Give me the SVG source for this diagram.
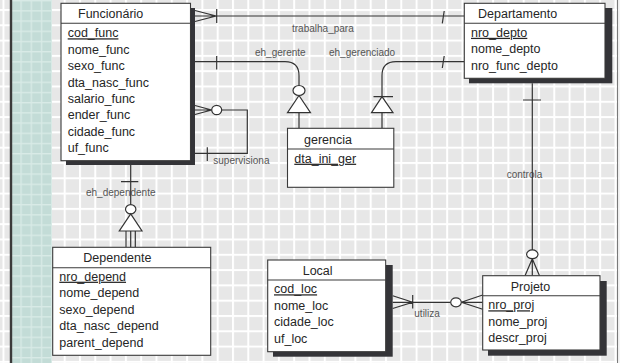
<svg xmlns="http://www.w3.org/2000/svg" width="620" height="363" viewBox="0 0 620 363">
<defs>
<pattern id="grid" patternUnits="userSpaceOnUse" x="2.5" y="9" width="15.3" height="15.3">
<rect width="15.3" height="15.3" fill="#e7e7e7"/>
<rect x="0" y="0" width="2" height="15.3" fill="#ffffff"/>
<rect x="0" y="0" width="15.3" height="2" fill="#ffffff"/>
</pattern>
<pattern id="teal" patternUnits="userSpaceOnUse" x="0" y="0" width="10.2" height="10.2">
<rect width="10.2" height="10.2" fill="#c3dcd7"/>
<rect x="0" y="0" width="1.4" height="10.2" fill="#d8eae6"/>
<rect x="0" y="0" width="10.2" height="1.4" fill="#d8eae6"/>
</pattern>
</defs>
<style>
.box{fill:#ffffff;stroke:#3a3a3a;stroke-width:1.1}
.shadow{fill:#343438}
.div{stroke:#3a3a3a;stroke-width:1.1}
.t{font-family:"Liberation Sans",Arial,sans-serif;font-size:12.5px;fill:#262626}
.u{text-decoration:underline}
.lbl{font-family:"Liberation Sans",Arial,sans-serif;font-size:10px;fill:#555555}
.c{fill:none;stroke:#333333;stroke-width:1.2}
.cw{fill:#ffffff;stroke:#333333;stroke-width:1.2}
</style>
<rect width="620" height="363" fill="url(#grid)"/>
<rect x="12" y="0" width="40" height="363" fill="url(#teal)"/>
<rect x="9.8" y="0" width="2.4" height="363" fill="#3a3a3a"/>
<rect x="617" y="0" width="1.2" height="363" fill="#7a7a7a"/>
<rect x="618.2" y="0" width="1.8" height="363" fill="#f4f4f4"/>

<g id="connectors">
<!-- labels -->
<text class="lbl" x="292" y="31.7">trabalha_para</text>
<text class="lbl" x="255" y="56">eh_gerente</text>
<text class="lbl" x="329" y="56">eh_gerenciado</text>
<text class="lbl" x="213.3" y="164">supervisiona</text>
<text class="lbl" x="86" y="196">eh_dependente</text>
<text class="lbl" x="506.7" y="178.3">controla</text>
<text class="lbl" x="414.3" y="316.7">utiliza</text>
<!-- trabalha_para -->
<path class="c" d="M195,16 H464 M195,10.5 L216,16 L195,21.5 M216.7,9 V23 M442.3,23.3 L444.2,11"/>
<!-- eh_gerente -->
<path class="c" d="M195,61.7 H285 Q299,61.7 299,75.7 V85.5 M216.7,56 V69.5 M299,112.7 V128.3"/>
<ellipse class="cw" cx="299" cy="90.5" rx="6" ry="5"/>
<path class="cw" d="M299,95.5 L287.5,112.7 L310.5,112.7 Z"/>
<!-- eh_gerenciado -->
<path class="c" d="M464,61.7 H396 Q382,61.7 382,75.7 V96.7 M442.3,68 L444.2,56 M373.5,96.7 H393 M382,112.7 V128.3"/>
<path class="cw" d="M382,96.7 L371.5,112.7 L393,112.7 Z"/>
<!-- supervisiona -->
<path class="c" d="M195,105.5 L211.5,110 L195,114.5 M195,110 H211.7 M221.7,110 H247.3 V153.3 H195 M207.3,147.3 V161"/>
<ellipse class="cw" cx="216.7" cy="110" rx="5" ry="4.7"/>
<!-- eh_dependente -->
<path class="c" d="M130.7,165 V204.7 M121,181.7 H138.3 M126,231 V247.3 M130.7,231 V247.3 M135.3,231 V247.3"/>
<ellipse class="cw" cx="130.7" cy="209.3" rx="5.2" ry="4.6"/>
<path class="cw" d="M130.7,213.9 L119.3,231 L142,231 Z"/>
<!-- controla -->
<path class="c" d="M532.3,83.3 V249.9 M523,100 H541 M525,275.7 L532.3,258.7 L539.5,275.7 M532.3,258.7 V275.7"/>
<ellipse class="cw" cx="532.3" cy="254.3" rx="5.7" ry="4.4"/>
<!-- utiliza -->
<path class="c" d="M392.7,295.7 L412.7,302.3 L392.7,308.5 M392.7,302.3 H450.7 M412.7,295 V308.5 M482.7,295 L461.3,302.3 L482.7,309.3 M461.3,302.3 H482.7"/>
<ellipse class="cw" cx="456" cy="302.3" rx="5.3" ry="4.5"/>
</g>

<g id="funcionario">
<rect class="shadow" x="66" y="8" width="129" height="157"/>
<rect class="box" x="61" y="3.3" width="129.5" height="157.4"/>
<line class="div" x1="61" y1="23.3" x2="190.5" y2="23.3"/>
<text class="t" x="78" y="18.3">Funcionário</text>
<text class="t u" x="67.7" y="37.3">cod_func</text>
<text class="t" x="67.7" y="53.7">nome_func</text>
<text class="t" x="67.7" y="70.1">sexo_func</text>
<text class="t" x="67.7" y="86.5">dta_nasc_func</text>
<text class="t" x="67.7" y="102.9">salario_func</text>
<text class="t" x="67.7" y="119.3">ender_func</text>
<text class="t" x="67.7" y="135.7">cidade_func</text>
<text class="t" x="67.7" y="152.1">uf_func</text>
</g>

<g id="departamento">
<rect class="shadow" x="469" y="8" width="143.3" height="75.3"/>
<rect class="box" x="464.3" y="3.3" width="140.7" height="75"/>
<line class="div" x1="464.3" y1="23.3" x2="605" y2="23.3"/>
<text class="t" x="478" y="18.3">Departamento</text>
<text class="t u" x="471" y="36.8">nro_depto</text>
<text class="t" x="471" y="53.2">nome_depto</text>
<text class="t" x="471" y="69.6">nro_func_depto</text>
</g>

<g id="gerencia">
<rect class="box" x="287.5" y="128.3" width="106.3" height="59"/>
<line class="div" x1="287.5" y1="149" x2="393.8" y2="149"/>
<text class="t" x="304" y="144">gerencia</text>
<text class="t u" x="294.3" y="162.7">dta_ini_ger</text>
</g>

<g id="dependente">
<rect class="box" x="52.7" y="247.3" width="158" height="108"/>
<line class="div" x1="52.7" y1="267.7" x2="210.7" y2="267.7"/>
<text class="t" x="83.3" y="261.7">Dependente</text>
<text class="t u" x="59.3" y="280.7">nro_depend</text>
<text class="t" x="59.3" y="297.2">nome_depend</text>
<text class="t" x="59.3" y="313.7">sexo_depend</text>
<text class="t" x="59.3" y="330.2">dta_nasc_depend</text>
<text class="t" x="59.3" y="346.7">parent_depend</text>
</g>

<g id="local">
<rect class="shadow" x="273" y="265" width="119.7" height="91.7"/>
<rect class="box" x="267.7" y="260" width="118" height="91.7"/>
<line class="div" x1="267.7" y1="280" x2="385.7" y2="280"/>
<text class="t" x="302.7" y="275">Local</text>
<text class="t u" x="274" y="293.3">cod_loc</text>
<text class="t" x="274" y="309.7">nome_loc</text>
<text class="t" x="274" y="326.1">cidade_loc</text>
<text class="t" x="274" y="342.5">uf_loc</text>
</g>

<g id="projeto">
<rect class="shadow" x="488" y="281" width="118.7" height="74.7"/>
<rect class="box" x="482.7" y="275.7" width="117.3" height="74.3"/>
<line class="div" x1="482.7" y1="295.7" x2="600" y2="295.7"/>
<text class="t" x="510.7" y="290.7">Projeto</text>
<text class="t u" x="488.3" y="309.3">nro_proj</text>
<text class="t" x="488.3" y="325.7">nome_proj</text>
<text class="t" x="488.3" y="342.1">descr_proj</text>
</g>
</svg>
